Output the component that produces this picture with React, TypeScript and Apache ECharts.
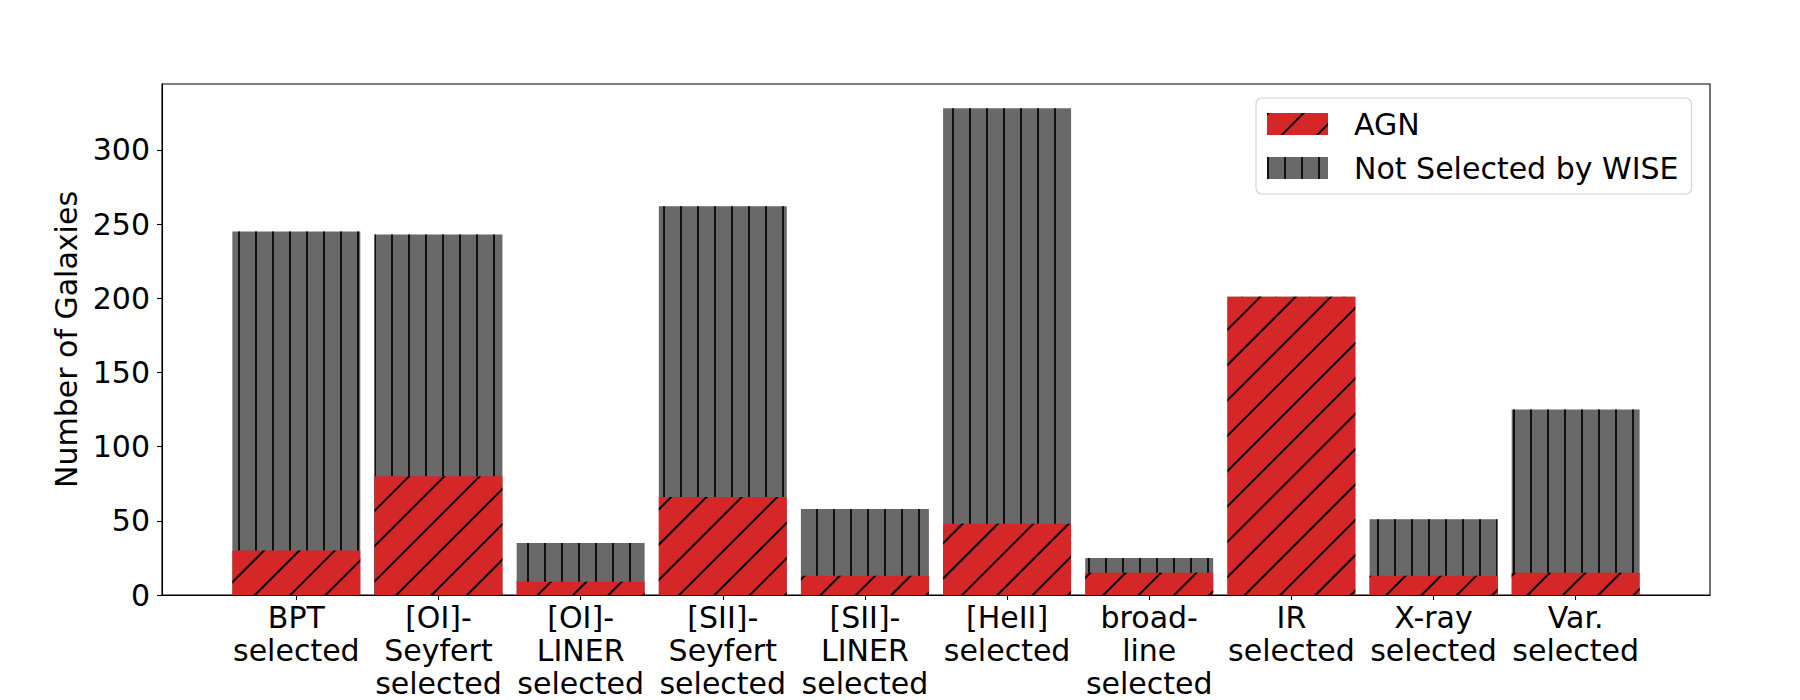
import React, { useEffect, useRef } from 'react';
import * as echarts from 'echarts';

const categories = [
  'BPT\nselected',
  '[OI]-\nSeyfert\nselected',
  '[OI]-\nLINER\nselected',
  '[SII]-\nSeyfert\nselected',
  '[SII]-\nLINER\nselected',
  '[HeII]\nselected',
  'broad-\nline\nselected',
  'IR\nselected',
  'X-ray\nselected',
  'Var.\nselected',
];
const agnCounts = [30, 80, 9, 66, 13, 48, 15, 201, 13, 15];
const notSelectedCounts = [215, 163, 26, 196, 45, 280, 10, 0, 38, 110];
const yTicks = [0, 50, 100, 150, 200, 250, 300];
const xPositions = categories.map((_, i) => i);

const FONT = 'DejaVu Sans';

export default function App() {
  const ref = useRef<HTMLDivElement>(null);
  useEffect(() => {
    document.body.style.margin = '0';
    if (!ref.current) return;
    const chart = echarts.init(ref.current, null, { renderer: 'svg' });
    const xMin = -0.945;
    const xMax = categories.length - 1 + 0.945;
    const gridLeft = 162;
    const gridWidth = 1548;
    const barWidth = (0.9 * gridWidth) / (xMax - xMin);
    // top of each stacked bar = AGN + not selected (gray drawn first, red on top of its lower part)
    const totals = agnCounts.map((v, i) => v + notSelectedCounts[i]);
    const agnDecal = {
      symbol: 'rect',
      symbolSize: 1,
      color: '#000',
      dashArrayX: [1.5, 22.5],
      dashArrayY: [4, 0],
      rotation: Math.PI / 4,
    };
    const grayDecal = {
      symbol: 'rect',
      symbolSize: 1,
      color: '#111',
      dashArrayX: [2, 15],
      dashArrayY: [4, 0],
      rotation: 0,
    };
    chart.setOption({
      animation: false,
      textStyle: { fontFamily: FONT },
      grid: {
        left: gridLeft,
        top: 84,
        width: gridWidth,
        height: 511.5,
        show: true,
        borderColor: '#000',
        borderWidth: 1.1,
        backgroundColor: 'transparent',
      },
      legend: {
        orient: 'vertical',
        left: 1256,
        top: 98,
        itemWidth: 61,
        itemHeight: 22,
        itemGap: 14,
        icon: 'rect',
        padding: [11, 13, 11, 11],
        backgroundColor: 'rgba(255,255,255,0.8)',
        borderColor: '#d4d4d4',
        borderWidth: 1.2,
        borderRadius: 6,
        textStyle: {
          fontSize: 30,
          fontFamily: FONT,
          color: '#000',
          padding: [0, 0, 0, 21],
        },
        data: ['AGN', 'Not Selected by WISE'],
      },
      xAxis: {
        type: 'value',
        min: xMin,
        max: xMax,
        splitLine: { show: false },
        axisLine: { show: true, onZero: false, lineStyle: { color: '#000', width: 1.1 } },
        axisTick: {
          show: true,
          length: 5,
          customValues: xPositions,
          lineStyle: { color: '#000', width: 1.1 },
        },
        axisLabel: {
          customValues: xPositions,
          formatter: (v: number) => categories[Math.round(v)] ?? '',
          fontSize: 30,
          lineHeight: 33,
          margin: 6,
          color: '#000',
          fontFamily: FONT,
          align: 'center',
        },
      },
      yAxis: {
        type: 'value',
        min: 0,
        max: 344.4,
        name: 'Number of Galaxies',
        nameLocation: 'middle',
        nameGap: 72,
        nameTextStyle: { fontSize: 30, color: '#000', fontFamily: FONT },
        splitLine: { show: false },
        axisLine: { show: true, onZero: false, lineStyle: { color: '#000', width: 1.1 } },
        axisTick: {
          show: true,
          length: 5,
          customValues: yTicks,
          lineStyle: { color: '#000', width: 1.1 },
        },
        axisLabel: {
          customValues: yTicks,
          fontSize: 30,
          margin: 12,
          color: '#000',
          fontFamily: FONT,
        },
      },
      series: [
        {
          name: 'Not Selected by WISE',
          type: 'bar',
          barWidth,
          barGap: '-100%',
          data: totals.map((v, i) => [xPositions[i], v]),
          itemStyle: { color: '#696969', decal: grayDecal },
        },
        {
          name: 'AGN',
          type: 'bar',
          barWidth,
          barGap: '-100%',
          data: agnCounts.map((v, i) => [xPositions[i], v]),
          itemStyle: { color: '#d62728', decal: agnDecal },
        },
      ],
    });
    return () => chart.dispose();
  }, []);
  return (
    <div
      ref={ref}
      style={{ position: 'absolute', left: 0, top: 0, width: 1800, height: 700 }}
    />
  );
}
